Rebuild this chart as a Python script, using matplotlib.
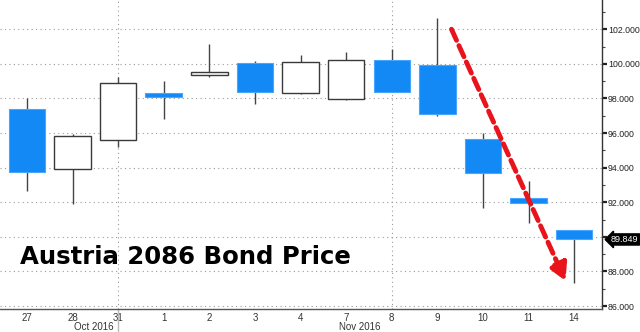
import matplotlib
matplotlib.use("Agg")
import matplotlib.pyplot as plt
from matplotlib.ticker import MultipleLocator

# daily candles, Austria 2086 bond
day_labels = ["27", "28", "31", "1", "2", "3", "4", "7", "8", "9", "10", "11", "14"]
opens = [97.38, 93.95, 95.58, 98.32, 99.38, 100.07, 98.30, 97.97, 100.24, 99.95, 95.66, 92.23, 90.42]
closes = [93.75, 95.83, 98.90, 98.07, 99.53, 98.39, 100.09, 100.24, 98.39, 97.12, 93.68, 91.98, 89.849]
highs = [98.00, 95.97, 99.23, 99.00, 101.15, 100.15, 100.50, 100.70, 100.84, 102.67, 96.02, 93.23, 90.42]
lows = [92.65, 91.92, 95.20, 96.80, 99.26, 97.68, 98.24, 97.90, 98.39, 97.00, 91.65, 90.82, 87.32]

last_price = 89.849
title = "Austria 2086 Bond Price"

BLUE = "#1289f5"
EDGE = "#3a3a3a"

fig = plt.figure(figsize=(6.4, 3.32), dpi=100)
ax = fig.add_axes([0.0, 23 / 332, 602 / 640, 309 / 332])

width = 0.8
for i, (o, c, h, l) in enumerate(zip(opens, closes, highs, lows)):
    ax.vlines(i, l, h, color="#444444", linewidth=1.0, zorder=2)
    bottom = min(o, c)
    height = abs(c - o)
    if c < o:
        ax.bar(i, height, width=width, bottom=bottom, color=BLUE,
               edgecolor="#48a6ff", linewidth=0.8, zorder=3)
    else:
        ax.bar(i, height, width=width, bottom=bottom, color="white",
               edgecolor=EDGE, linewidth=1.0, zorder=3)

ax.set_xlim(-0.59, 12.61)
ax.set_ylim(85.83, 103.69)

# right-hand price axis
ax.yaxis.tick_right()
ax.yaxis.set_major_locator(MultipleLocator(2))
ax.yaxis.set_minor_locator(MultipleLocator(1))
ax.yaxis.set_major_formatter(
    plt.FuncFormatter(lambda v, p: "" if abs(v - 90) < 1e-6 else f"{v:.3f}"))
ax.tick_params(axis="y", which="major", length=3.5, width=1.6, color="#222222",
               labelsize=6.3, labelcolor="#222222", pad=0.8)
ax.tick_params(axis="y", which="minor", length=2.5, width=0.8, color="#444444")
for lab in ax.get_yticklabels():
    lab.set_family("Liberation Sans")

ax.set_xticks(range(len(day_labels)))
ax.set_xticklabels(day_labels, family="Liberation Sans", fontsize=7, color="#333333")
ax.tick_params(axis="x", length=0, pad=3)

for s in ["top", "left"]:
    ax.spines[s].set_visible(False)
ax.spines["right"].set_color("#333333")
ax.spines["bottom"].set_color("#555555")
ax.spines["right"].set_linewidth(1.0)
ax.spines["bottom"].set_linewidth(1.0)

ax.grid(axis="y", which="major", linestyle=(0, (1, 3)), color="#999999", linewidth=0.8, zorder=0)
for xv in [2, 8]:
    ax.axvline(xv, linestyle=(0, (1, 3)), color="#999999", linewidth=0.8, zorder=0)
ax.plot([2, 2], [-0.075, 0], transform=ax.get_xaxis_transform(), color="#bbbbbb",
        linewidth=1.0, clip_on=False)

# month labels
fig.text(94 / 640, 1 - 327 / 332, "Oct 2016", ha="center", va="center",
         family="Liberation Sans", fontsize=7, color="#333333")
fig.text(360 / 640, 1 - 327 / 332, "Nov 2016", ha="center", va="center",
         family="Liberation Sans", fontsize=7, color="#333333")

# last price tag
ax.annotate(f"{last_price:.3f}", xy=(1.0, last_price), xycoords=("axes fraction", "data"),
            xytext=(9, 0), textcoords="offset pixels", ha="left", va="center",
            family="Liberation Sans", fontsize=6.5, color="white",
            bbox=dict(boxstyle="larrow,pad=0.12", fc="black", ec="black"),
            annotation_clip=False, zorder=6)

# red trend arrow
ax.annotate("", xy=(11.81, 87.45), xytext=(9.31, 102.0),
            arrowprops=dict(arrowstyle="-|>,head_length=1.0,head_width=0.55",
                            color="#e8131b", lw=3.5, linestyle=(0, (2.5, 1.2)),
                            shrinkA=0, shrinkB=0), zorder=5)

fig.text(20 / 640, 1 - 264 / 332, title, ha="left", va="baseline",
         fontsize=17.6, fontweight="bold", color="black")

fig.savefig("out.png", dpi=100)
